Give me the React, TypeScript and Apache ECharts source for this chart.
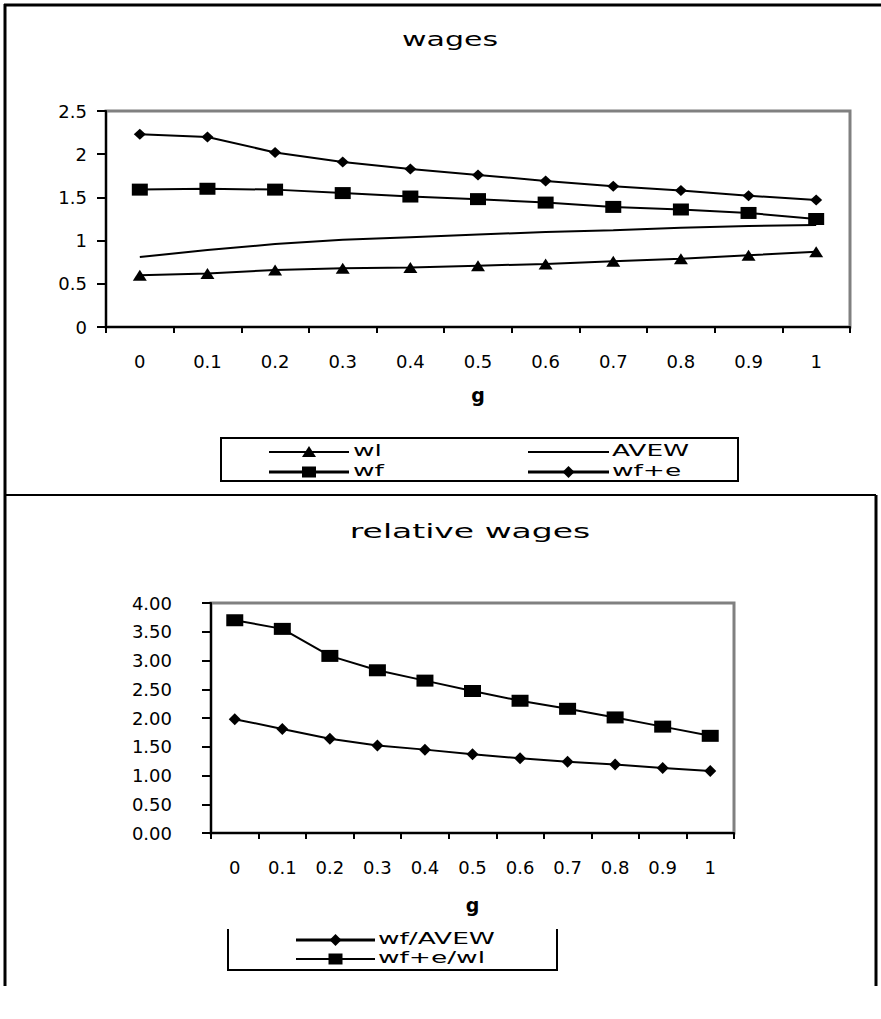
import React, { useEffect, useRef } from "react";
import * as echarts from "echarts";

const gValues = ["0", "0.1", "0.2", "0.3", "0.4", "0.5", "0.6", "0.7", "0.8", "0.9", "1"];
const wl = [0.6, 0.62, 0.66, 0.68, 0.69, 0.71, 0.73, 0.76, 0.79, 0.83, 0.87];
const avew = [0.81, 0.89, 0.96, 1.01, 1.04, 1.07, 1.1, 1.12, 1.15, 1.17, 1.18];
const wf = [1.59, 1.6, 1.59, 1.55, 1.51, 1.48, 1.44, 1.39, 1.36, 1.32, 1.25];
const wfe = [2.23, 2.2, 2.02, 1.91, 1.83, 1.76, 1.69, 1.63, 1.58, 1.52, 1.47];
const wfOverAvew = [1.98, 1.81, 1.64, 1.52, 1.45, 1.37, 1.3, 1.24, 1.19, 1.13, 1.08];
const wfeOverWl = [3.7, 3.55, 3.08, 2.83, 2.65, 2.47, 2.3, 2.16, 2.01, 1.85, 1.69];

const topTitle = "wages";
const bottomTitle = "relative wages";
const xName = "g";

const FONT = "DejaVu Sans";
const STRETCH = 1.65;

function marker(kind: string, cx: number, cy: number) {
  const st = { fill: "#000", stroke: "none" };
  if (kind === "triangle") {
    return { type: "polygon", shape: { points: [[cx, cy - 6], [cx + 7, cy + 5], [cx - 7, cy + 5]] }, style: st };
  }
  if (kind === "rect") {
    return { type: "rect", shape: { x: cx - 7, y: cy - 5.5, width: 14, height: 11 }, style: st };
  }
  if (kind === "diamond") {
    return { type: "polygon", shape: { points: [[cx, cy - 6], [cx + 6, cy], [cx, cy + 6], [cx - 6, cy]] }, style: st };
  }
  return null;
}

function legendEntry(label: string, kind: string, x1: number, x2: number, y: number, textX: number, lw: number) {
  const els: any[] = [
    { type: "line", shape: { x1, y1: y, x2, y2: y }, style: { stroke: "#000", lineWidth: lw } },
  ];
  const m = marker(kind, (x1 + x2) / 2, y);
  if (m) els.push(m);
  els.push({
    type: "text",
    x: textX,
    y: y - 1,
    scaleX: STRETCH,
    style: {
      text: label,
      font: `16px "${FONT}"`,
      fill: "#000",
      align: "left",
      textAlign: "left",
      verticalAlign: "middle",
      textVerticalAlign: "middle",
    },
  });
  return els;
}

function titleText(text: string, x: number, y: number, sx: number) {
  return {
    type: "text",
    x,
    y,
    scaleX: sx,
    style: {
      text,
      font: `20px "${FONT}"`,
      fill: "#000",
      align: "center",
      textAlign: "center",
      verticalAlign: "middle",
      textVerticalAlign: "middle",
    },
  };
}

export default function App() {
  const ref = useRef<HTMLDivElement>(null);
  useEffect(() => {
    if (!ref.current) return;
    const chart = echarts.init(ref.current, undefined, { renderer: "svg" });
    const axisLabel = { color: "#000", fontFamily: FONT, fontSize: 18 };
    const lineStyle = { color: "#000", width: 2 };
    const base = (name: string, data: number[], idx: number, symbol: string, size: any) => ({
      type: "line",
      name,
      data,
      xAxisIndex: idx,
      yAxisIndex: idx,
      symbol,
      symbolSize: size,
      showSymbol: symbol !== "none",
      itemStyle: { color: "#000", borderWidth: 0 },
      lineStyle,
      emphasis: { disabled: true },
    });
    const xAxisCommon = (gridIndex: number, nameGap: number) => ({
      type: "category",
      gridIndex,
      data: gValues,
      boundaryGap: true,
      name: xName,
      nameLocation: "middle",
      nameGap,
      nameTextStyle: { fontFamily: FONT, fontSize: 19, fontWeight: "bold", color: "#000" },
      axisLine: { lineStyle: { color: "#000", width: 2 } },
      axisTick: { show: true, length: 6, lineStyle: { color: "#000", width: 2 } },
      axisLabel: { ...axisLabel, margin: 25, interval: 0, hideOverlap: false },
      splitLine: { show: false },
    });
    chart.setOption({
      animation: false,
      backgroundColor: "#fff",
      grid: [
        { left: 106, top: 111, width: 744, height: 216, show: true, borderColor: "#808080", borderWidth: 3, backgroundColor: "#fff" },
        { left: 211, top: 603, width: 523, height: 230, show: true, borderColor: "#808080", borderWidth: 3, backgroundColor: "#fff" },
      ],
      xAxis: [xAxisCommon(0, 58), xAxisCommon(1, 62)],
      yAxis: [
        {
          type: "value",
          gridIndex: 0,
          min: 0,
          max: 2.5,
          interval: 0.5,
          axisLine: { show: true, lineStyle: { color: "#000", width: 2 } },
          axisTick: { show: true, length: 9, lineStyle: { color: "#000", width: 2 } },
          axisLabel: { ...axisLabel, margin: 19 },
          splitLine: { show: false },
        },
        {
          type: "value",
          gridIndex: 1,
          min: 0,
          max: 4,
          interval: 0.5,
          axisLine: { show: true, lineStyle: { color: "#000", width: 2 } },
          axisTick: { show: true, length: 9, lineStyle: { color: "#000", width: 2 } },
          axisLabel: { ...axisLabel, margin: 39, formatter: (v: number) => v.toFixed(2) },
          splitLine: { show: false },
        },
      ],
      graphic: [
        { type: "line", shape: { x1: 4, y1: 5, x2: 881, y2: 5 }, style: { stroke: "#000", lineWidth: 3 } },
        { type: "line", shape: { x1: 5, y1: 4, x2: 5, y2: 986 }, style: { stroke: "#000", lineWidth: 3 } },
        { type: "line", shape: { x1: 5, y1: 495, x2: 876, y2: 495 }, style: { stroke: "#000", lineWidth: 2 } },
        { type: "line", shape: { x1: 876, y1: 495, x2: 876, y2: 986 }, style: { stroke: "#000", lineWidth: 3 } },
        titleText(topTitle, 450, 39, 1.5),
        titleText(bottomTitle, 470, 531, STRETCH),
        { type: "rect", shape: { x: 221, y: 438, width: 517, height: 43 }, style: { fill: "none", stroke: "#000", lineWidth: 2 } },
        ...legendEntry("wl", "triangle", 269, 349, 452, 353, 2),
        ...legendEntry("wf", "rect", 269, 349, 472, 353, 3),
        ...legendEntry("AVEW", "none", 528, 609, 452, 612, 2),
        ...legendEntry("wf+e", "diamond", 528, 609, 472, 612, 3),
        {
          type: "polyline",
          shape: { points: [[228, 929], [228, 970], [557, 970], [557, 929]] },
          style: { fill: "none", stroke: "#000", lineWidth: 2 },
        },
        ...legendEntry("wf/AVEW", "diamond", 296, 375, 940, 378, 3),
        ...legendEntry("wf+e/wl", "rect", 296, 375, 959, 378, 2),
      ],
      series: [
        base("wl", wl, 0, "triangle", [14, 11]),
        base("AVEW", avew, 0, "none", 0),
        base("wf", wf, 0, "rect", [16, 12]),
        base("wf+e", wfe, 0, "diamond", [12, 11]),
        base("wf/AVEW", wfOverAvew, 1, "diamond", [12, 12]),
        base("wf+e/wl", wfeOverWl, 1, "rect", [17, 12]),
      ],
    });
    return () => chart.dispose();
  }, []);
  return <div ref={ref} style={{ position: "absolute", left: 0, top: 0, width: 881, height: 1019 }} />;
}
